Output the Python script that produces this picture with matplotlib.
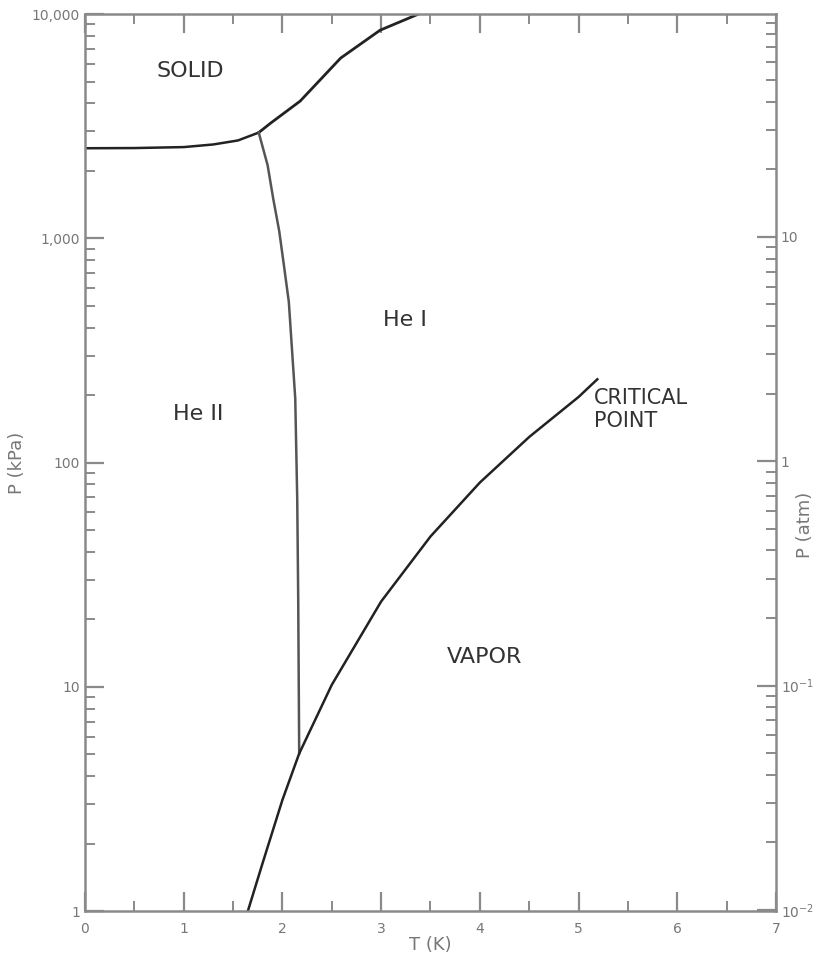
import matplotlib

matplotlib.use("Agg")
import matplotlib.pyplot as plt
from matplotlib.ticker import FixedLocator, FixedFormatter, LogLocator, NullFormatter, MultipleLocator

# courbes du diagramme de phase de l'hélium (T en K, P en kPa)
fusion_bas_T = [0.0, 0.5, 1.0, 1.3, 1.55, 1.76]
fusion_bas_P = [2520, 2525, 2550, 2620, 2730, 2960]

fusion_haut_T = [1.76, 1.88, 2.18, 2.59, 2.99, 3.38]
fusion_haut_P = [2960, 3260, 4090, 6360, 8470, 10000]

lambda_T = [1.76, 1.85, 1.906, 1.968, 2.015, 2.065, 2.13, 2.15, 2.16, 2.17]
lambda_P = [2960, 2118, 1509, 1074, 758, 520, 193, 69, 24.7, 5.04]

vapeur_T = [1.65, 1.8, 2.0, 2.17, 2.5, 3.0, 3.5, 4.0, 4.5, 5.0, 5.19]
vapeur_P = [1.0, 1.64, 3.13, 5.04, 10.2, 24.0, 46.8, 81.4, 130, 196, 235]

kpa_ticks = [1, 10, 100, 1000, 10000]
kpa_labels = ["1", "10", "100", "1,000", "10,000"]
atm_ticks = [0.01, 0.1, 1, 10, 100]
atm_labels = ["10$^{-2}$", "10$^{-1}$", "1", "10", "100"]

GRIS = "#8a8a8a"
TEXTE = "#777777"
TRAIT = "#222222"
ATM = 101.325

fig = plt.figure(figsize=(8.22, 9.59), dpi=100)
ax = fig.add_axes([0.1034, 0.05, 0.8406, 0.9354])

ax.plot(fusion_bas_T, fusion_bas_P, color=TRAIT, lw=1.8)
ax.plot(fusion_haut_T, fusion_haut_P, color=TRAIT, lw=2.0)
ax.plot(lambda_T, lambda_P, color="#555555", lw=1.8)
ax.plot(vapeur_T, vapeur_P, color=TRAIT, lw=1.8)

ax.set_yscale("log")
ax.set_xlim(0, 7)
ax.set_ylim(1, 10000)

for s in ax.spines.values():
    s.set_color(GRIS)
    s.set_linewidth(1.8)
ax.spines["right"].set_visible(False)

ax.xaxis.set_major_locator(MultipleLocator(1))
ax.xaxis.set_minor_locator(MultipleLocator(0.5))
ax.yaxis.set_major_locator(FixedLocator(kpa_ticks))
ax.yaxis.set_major_formatter(FixedFormatter(kpa_labels))
ax.yaxis.set_minor_locator(LogLocator(base=10, subs=range(2, 10)))
ax.yaxis.set_minor_formatter(NullFormatter())
ax.tick_params(which="both", direction="in", color=GRIS, top=True, labelcolor=TEXTE,
               labelsize=10)
ax.tick_params(which="major", length=14, width=1.6)
ax.tick_params(which="minor", length=7, width=1.4)
ax.tick_params(axis="x", pad=8)

ax2 = ax.secondary_yaxis("right", functions=(lambda p: p / ATM, lambda a: a * ATM))
ax2.spines["right"].set_color(GRIS)
ax2.spines["right"].set_linewidth(1.8)
ax2.yaxis.set_major_locator(FixedLocator(atm_ticks))
ax2.yaxis.set_major_formatter(FixedFormatter(atm_labels))
ax2.yaxis.set_minor_locator(LogLocator(base=10, subs=range(2, 10)))
ax2.yaxis.set_minor_formatter(NullFormatter())
ax2.tick_params(which="both", direction="in", color=GRIS, labelcolor=TEXTE, labelsize=10)
ax2.tick_params(which="major", length=14, width=1.6)
ax2.tick_params(which="minor", length=7, width=1.4)

ax.set_xlabel("T (K)", color=TEXTE, fontsize=13, labelpad=0)
ax.set_ylabel("P (kPa)", color=TEXTE, fontsize=13, labelpad=4)
fig.text(805 / 822, 0.453, "P (atm)", color=TEXTE, fontsize=13, rotation=90,
         ha="center", va="center")

etiq = dict(color="#333333", fontsize=16, ha="center", va="center")
ax.text(1.065, 5570, "SOLID", **etiq)
ax.text(3.245, 430, "He I", **etiq)
ax.text(1.146, 164, "He II", **etiq)
ax.text(4.05, 13.6, "VAPOR", **etiq)
ax.text(5.16, 173, "CRITICAL\nPOINT", color="#333333", fontsize=15, ha="left",
        va="center", linespacing=1.2)

fig.savefig("out.png", dpi=100, facecolor="white")
